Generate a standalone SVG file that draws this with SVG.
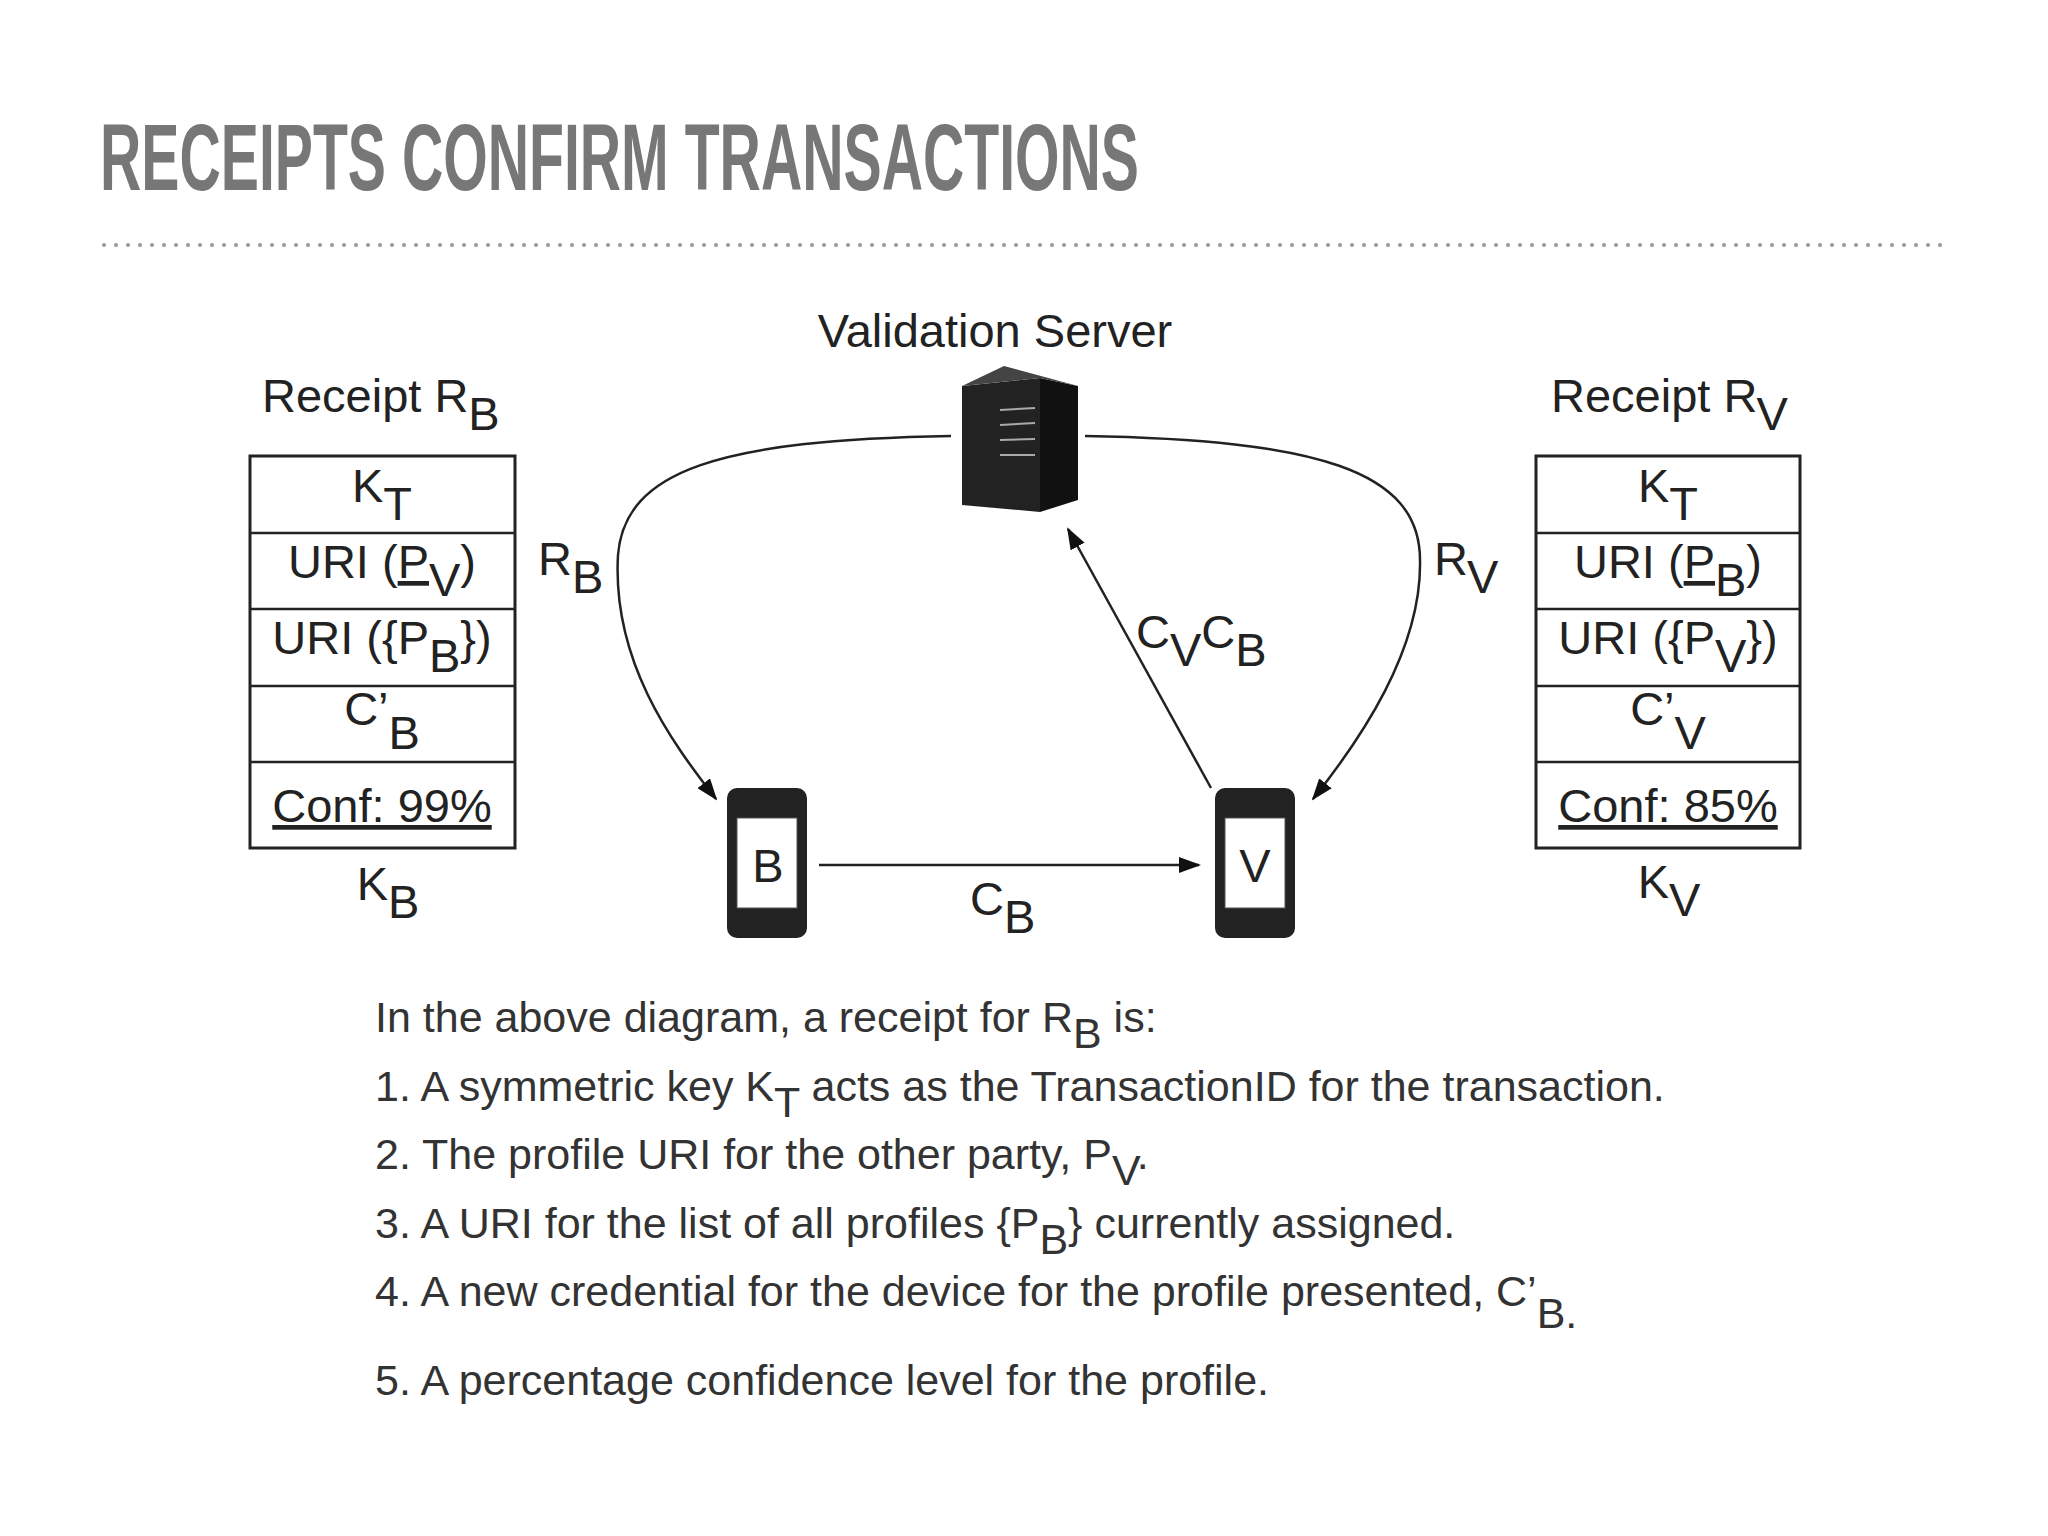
<svg xmlns="http://www.w3.org/2000/svg" width="2048" height="1536" viewBox="0 0 2048 1536">
<defs>
<style>
.t{font-family:"Liberation Sans",Arial,sans-serif;fill:#222;font-size:47px}
.c{text-anchor:middle}
.b{font-family:"Liberation Sans",Arial,sans-serif;fill:#333;font-size:43px}
.box{fill:#fff;stroke:#222;stroke-width:3}
.ln{fill:none;stroke:#222;stroke-width:2.5}
</style>
<marker id="ahb" markerWidth="22" markerHeight="16" refX="20" refY="8" orient="auto" markerUnits="userSpaceOnUse" viewBox="0 0 22 16"><path d="M0,0 L22,8 L0,16 z" fill="#111"/></marker>
</defs>
<rect width="2048" height="1536" fill="#fff"/>
<text x="100" y="190" font-family="'Liberation Sans',Arial,sans-serif" font-weight="bold" font-size="94" fill="#777" textLength="1039" lengthAdjust="spacingAndGlyphs">RECEIPTS CONFIRM TRANSACTIONS</text>
<line x1="104" y1="245" x2="1946" y2="245" stroke="#999" stroke-width="4" stroke-dasharray="0 12" stroke-linecap="round"/>

<g id="receiptB">
<text class="t" x="262" y="412">Receipt R<tspan dy="18">B</tspan></text>
<rect class="box" x="250" y="456" width="265" height="392"/>
<line class="ln" x1="250" y1="533" x2="515" y2="533"/>
<line class="ln" x1="250" y1="609" x2="515" y2="609"/>
<line class="ln" x1="250" y1="686" x2="515" y2="686"/>
<line class="ln" x1="250" y1="762" x2="515" y2="762"/>
<text class="t c" x="382" y="502">K<tspan dy="18">T</tspan></text>
<text class="t c" x="382" y="578">URI (<tspan text-decoration="underline">P</tspan><tspan dy="18">V</tspan><tspan dy="-18">)</tspan></text>
<text class="t c" x="382" y="654">URI ({P<tspan dy="18">B</tspan><tspan dy="-18">})</tspan></text>
<text class="t c" x="382" y="725">C’<tspan dy="24">B</tspan></text>
<text class="t c" x="382" y="822" text-decoration="underline">Conf: 99%</text>
<text class="t c" x="388" y="900">K<tspan dy="18">B</tspan></text>
</g>

<g id="receiptV">
<text class="t" x="1551" y="412">Receipt R<tspan dy="18">V</tspan></text>
<rect class="box" x="1536" y="456" width="264" height="392"/>
<line class="ln" x1="1536" y1="533" x2="1800" y2="533"/>
<line class="ln" x1="1536" y1="609" x2="1800" y2="609"/>
<line class="ln" x1="1536" y1="686" x2="1800" y2="686"/>
<line class="ln" x1="1536" y1="762" x2="1800" y2="762"/>
<text class="t c" x="1668" y="502">K<tspan dy="18">T</tspan></text>
<text class="t c" x="1668" y="578">URI (<tspan text-decoration="underline">P</tspan><tspan dy="18">B</tspan><tspan dy="-18">)</tspan></text>
<text class="t c" x="1668" y="654">URI ({P<tspan dy="18">V</tspan><tspan dy="-18">})</tspan></text>
<text class="t c" x="1668" y="725">C’<tspan dy="24">V</tspan></text>
<text class="t c" x="1668" y="822" text-decoration="underline">Conf: 85%</text>
<text class="t c" x="1669" y="898">K<tspan dy="18">V</tspan></text>
</g>

<g id="server">
<text class="t c" x="995" y="347">Validation Server</text>
<polygon points="962,386 1040,378 1040,512 962,505" fill="#222"/>
<polygon points="1040,378 1078,386 1078,500 1040,512" fill="#111"/>
<polygon points="962,386 1004,366 1078,386 1040,378" fill="#444"/>
<line x1="1000" y1="410" x2="1035" y2="408" stroke="#aaa" stroke-width="2"/>
<line x1="1000" y1="425" x2="1035" y2="423" stroke="#aaa" stroke-width="2"/>
<line x1="1000" y1="440" x2="1035" y2="439" stroke="#aaa" stroke-width="2"/>
<line x1="1000" y1="455" x2="1035" y2="455" stroke="#aaa" stroke-width="2"/>
</g>

<g id="phoneB">
<rect x="727" y="788" width="80" height="150" rx="10" fill="#222"/>
<rect x="737" y="818" width="60" height="90" fill="#fff" stroke="#555"/>
<text class="t c" x="768" y="882">B</text>
</g>
<g id="phoneV">
<rect x="1215" y="788" width="80" height="150" rx="10" fill="#222"/>
<rect x="1225" y="818" width="60" height="90" fill="#fff" stroke="#555"/>
<text class="t c" x="1255" y="882">V</text>
</g>

<g id="connectors">
<path class="ln" d="M951,436 C720,440 625,470 618,555 C612,660 670,740 716,799" marker-end="url(#ahb)"/>
<path class="ln" d="M1085,436 C1316,440 1420,470 1420,560 C1422,650 1360,740 1313,799" marker-end="url(#ahb)"/>
<line class="ln" x1="1211" y1="788" x2="1068" y2="529" marker-end="url(#ahb)"/>
<line class="ln" x1="819" y1="865" x2="1199" y2="865" marker-end="url(#ahb)"/>
<text class="t" x="538" y="575">R<tspan dy="18">B</tspan></text>
<text class="t" x="1434" y="575">R<tspan dy="18">V</tspan></text>
<text class="t" x="1136" y="648">C<tspan dy="18">V</tspan><tspan dy="-18">C</tspan><tspan dy="18">B</tspan></text>
<text class="t" x="970" y="915">C<tspan dy="18">B</tspan></text>
</g>

<g id="caption">
<text class="b" x="375" y="1032">In the above diagram, a receipt for R<tspan dy="16">B</tspan><tspan dy="-16"> is:</tspan></text>
<text class="b" x="375" y="1101">1. A symmetric key K<tspan dy="16">T</tspan><tspan dy="-16"> acts as the TransactionID for the transaction.</tspan></text>
<text class="b" x="375" y="1169">2. The profile URI for the other party, P<tspan dy="16">V</tspan><tspan dy="-16">.</tspan></text>
<text class="b" x="375" y="1238">3. A URI for the list of all profiles {P<tspan dy="16">B</tspan><tspan dy="-16">} currently assigned.</tspan></text>
<text class="b" x="375" y="1306">4. A new credential for the device for the profile presented, C’<tspan dy="22">B.</tspan></text>
<text class="b" x="375" y="1395">5. A percentage confidence level for the profile.</text>
</g>
</svg>
